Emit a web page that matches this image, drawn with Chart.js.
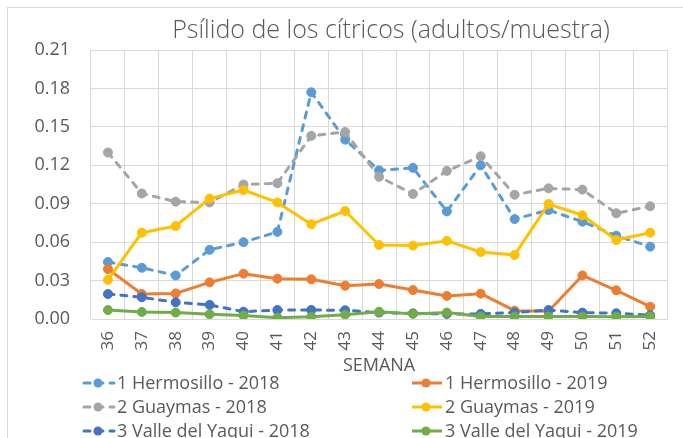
<!DOCTYPE html>
<html>
<head>
<meta charset="utf-8">
<script src="https://cdn.jsdelivr.net/npm/chart.js@4.4.1/dist/chart.umd.min.js"></script>
<style>
  html, body { margin: 0; padding: 0; background: #fff; }
  #wrap { width: 683px; height: 438px; position: relative; }
</style>
</head>
<body>
<div id="wrap"><canvas id="chart"></canvas></div>
<script>
/* Psílido de los cítricos — adults per sample, weeks 36-52 */

const WEEKS = ['36','37','38','39','40','41','42','43','44','45','46','47','48','49','50','51','52'];

const hermosillo2018 = [0.0445, 0.040, 0.034, 0.054, 0.060, 0.068, 0.177, 0.140, 0.116, 0.118, 0.084, 0.120, 0.078, 0.085, 0.076, 0.065, 0.0565];
const hermosillo2019 = [0.039, 0.0195, 0.020, 0.0286, 0.0354, 0.0315, 0.031, 0.026, 0.0273, 0.0226, 0.018, 0.0198, 0.0065, 0.006, 0.034, 0.0224, 0.0096];
const guaymas2018    = [0.130, 0.098, 0.0916, 0.091, 0.105, 0.106, 0.143, 0.146, 0.111, 0.0976, 0.1156, 0.127, 0.097, 0.102, 0.101, 0.0825, 0.088];
const guaymas2019    = [0.0305, 0.0674, 0.0726, 0.094, 0.1007, 0.091, 0.074, 0.0843, 0.0578, 0.0573, 0.061, 0.0523, 0.050, 0.0898, 0.081, 0.0617, 0.0674];
const yaqui2018      = [0.0195, 0.017, 0.013, 0.011, 0.0057, 0.007, 0.007, 0.0068, 0.005, 0.0044, 0.004, 0.004, 0.005, 0.007, 0.005, 0.0045, 0.003];
const yaqui2019      = [0.007, 0.0055, 0.005, 0.0037, 0.0027, 0.001, 0.0018, 0.0034, 0.0057, 0.004, 0.005, 0.002, 0.002, 0.002, 0.002, 0.0018, 0.002];

const Y_TICKS = { min: 0, max: 0.21, step: 0.03 };
const TITLE = 'Psílido de los cítricos (adultos/muestra)';

const TEXT = '#595959';
const GRID = '#D9D9D9';
const FONT = 'Open Sans';

function series(label, data, color, dashed) {
  return {
    label, data,
    borderColor: color, backgroundColor: color,
    pointBackgroundColor: color, pointBorderColor: color,
    borderWidth: 3, pointRadius: 4.5, pointBorderWidth: 1,
    borderDash: dashed ? [6, 7] : [],
    borderCapStyle: dashed ? 'round' : 'butt',
    borderJoinStyle: 'round',
    tension: 0, fill: false,
    dashed
  };
}

const datasets = [
  series('1 Hermosillo - 2018', hermosillo2018, '#5B9BD5', true),
  series('1 Hermosillo - 2019', hermosillo2019, '#ED7D31', false),
  series('2 Guaymas - 2018', guaymas2018, '#A5A5A5', true),
  series('2 Guaymas - 2019', guaymas2019, '#FFC000', false),
  series('3 Valle del Yaqui - 2018', yaqui2018, '#4472C4', true),
  series('3 Valle del Yaqui - 2019', yaqui2019, '#70AD47', false)
];
// later series sit on top, like the spreadsheet
datasets.forEach((d, i) => { d.order = datasets.length - i; });

/* ── outer frame + title (title sits a bit right of centre, as in the sheet) ── */
const framePlugin = {
  id: 'frame',
  beforeDraw(chart) {
    const ctx = chart.ctx;
    ctx.save();
    ctx.fillStyle = '#fff';
    ctx.fillRect(0, 0, chart.width, chart.height);
    ctx.strokeStyle = GRID;
    ctx.lineWidth = 1;
    ctx.strokeRect(7.5, 7.5, chart.width + 20, chart.height + 20);
    ctx.fillStyle = TEXT;
    ctx.font = `300 25px "${FONT}"`;
    ctx.textAlign = 'center';
    ctx.textBaseline = 'middle';
    ctx.fillText(TITLE, 391, 31);
    ctx.restore();
  }
};

/* ── two-column legend below the axis ── */
const LEGEND_COLS = [82, 410];
const LEGEND_ROWS = [383, 407, 431];

const gridLegendPlugin = {
  id: 'gridLegend',
  afterDraw(chart) {
    const ctx = chart.ctx;
    ctx.save();
    chart.data.datasets.forEach((ds, i) => {
      const x0 = LEGEND_COLS[i % 2];
      const y = LEGEND_ROWS[Math.floor(i / 2)];
      ctx.strokeStyle = ds.borderColor;
      ctx.lineWidth = 3;
      ctx.lineCap = ds.dashed ? 'round' : 'butt';
      ctx.setLineDash(ds.dashed ? [6, 7] : []);
      ctx.beginPath();
      ctx.moveTo(x0 + 2, y);
      ctx.lineTo(x0 + 32, y);
      ctx.stroke();
      ctx.setLineDash([]);
      ctx.fillStyle = ds.borderColor;
      ctx.beginPath();
      ctx.arc(x0 + 16, y, 4.5, 0, Math.PI * 2);
      ctx.fill();
      ctx.fillStyle = TEXT;
      ctx.font = `18px "${FONT}"`;
      ctx.textAlign = 'left';
      ctx.textBaseline = 'middle';
      ctx.fillText(ds.label, x0 + 35, y + 1);
    });
    ctx.restore();
  }
};

new Chart(document.getElementById('chart'), {
  type: 'line',
  data: { labels: WEEKS, datasets },
  plugins: [framePlugin, gridLegendPlugin],
  options: {
    responsive: true,
    maintainAspectRatio: false,
    animation: false,
    layout: { padding: { top: 50, right: 14, bottom: 61, left: 0 } },
    plugins: {
      legend: { display: false },
      tooltip: { enabled: false },
      title: { display: false }
    },
    scales: {
      x: {
        offset: true,
        grid: { color: GRID, offset: true, drawTicks: false },
        border: { color: GRID },
        ticks: { color: TEXT, font: { family: FONT, size: 17 }, minRotation: 90, maxRotation: 90, padding: 12 },
        title: { display: true, text: 'SEMANA', color: TEXT, font: { family: FONT, size: 18 }, padding: { top: 0, bottom: 0 } },
        afterFit: s => { s.height = 58; }
      },
      y: {
        min: Y_TICKS.min, max: Y_TICKS.max,
        grid: { color: GRID, drawTicks: false },
        border: { display: false },
        ticks: { stepSize: Y_TICKS.step, color: TEXT, font: { family: FONT, size: 18 }, padding: 21,
                 callback: v => Number(v).toFixed(2) },
        afterFit: s => { s.width = 91; }
      }
    }
  }
});
</script>
</body>
</html>
